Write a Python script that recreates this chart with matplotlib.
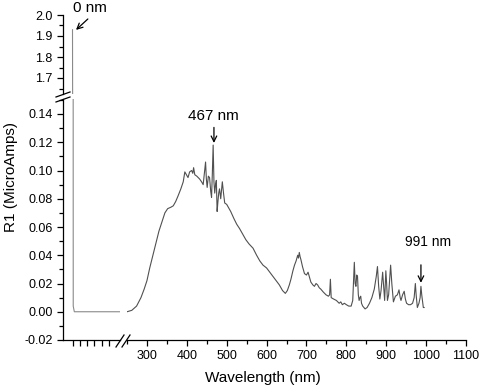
import numpy as np
import matplotlib
matplotlib.use("Agg")
import matplotlib.pyplot as plt
from matplotlib.lines import Line2D
from matplotlib.ticker import MultipleLocator, FormatStrFormatter

plt.rcParams['font.family'] = ['Liberation Sans', 'DejaVu Sans']
plt.rcParams['axes.unicode_minus'] = False

# left (broken) section: the 0 nm spike
wl_left = [0, 1, 2.5, 65]
r1_left = [1.93, 0.004, 0.0, 0.0]

# main spectrum, 250-1000 nm
wavelength = [250, 262, 274, 285, 293, 300, 307, 315, 322, 330, 338, 345, 352, 360, 366,
              372, 378, 385, 391, 395, 399, 403, 407, 412, 415, 417, 420, 425, 432, 437,
              441, 444, 447, 449, 451, 454, 457, 460, 462, 464, 466, 468, 470, 472, 474,
              476, 478, 480, 482, 485, 489, 492, 495, 500, 503, 510, 518, 525, 532, 540,
              548, 556, 566, 575, 583, 591, 600, 608, 616, 624, 632, 640, 647, 652, 657,
              661, 666, 670, 674, 678, 680, 682, 684, 686, 690, 695, 700, 704, 707, 711,
              716, 720, 724, 728, 732, 736, 742, 749, 755, 758, 760, 762, 768, 775, 782,
              786, 790, 795, 800, 806, 812, 816, 820, 822, 824, 826, 828, 830, 832, 834,
              836, 838, 841, 847, 852, 858, 864, 870, 875, 878, 881, 884, 887, 891, 893,
              896, 899, 901, 903, 906, 911, 914, 918, 923, 928, 932, 935, 937, 941, 945,
              948, 951, 956, 961, 966, 970, 973, 975, 978, 982, 985, 987, 989, 993, 995]
r1 = [0.000, 0.001, 0.004, 0.010, 0.016, 0.022, 0.031, 0.040, 0.048, 0.057, 0.064, 0.070, 0.073, 0.074, 0.075,
      0.078, 0.082, 0.087, 0.092, 0.099, 0.097, 0.095, 0.099, 0.100, 0.098, 0.102, 0.097, 0.096, 0.094, 0.092,
      0.090, 0.098, 0.106, 0.094, 0.088, 0.096, 0.095, 0.085, 0.081, 0.098, 0.118, 0.092, 0.084, 0.090, 0.093,
      0.071, 0.078, 0.084, 0.087, 0.080, 0.092, 0.084, 0.077, 0.076, 0.0745, 0.071, 0.066, 0.062, 0.059, 0.055,
      0.051, 0.048, 0.045, 0.040, 0.036, 0.033, 0.031, 0.028, 0.025, 0.022, 0.019, 0.015, 0.013, 0.015, 0.019,
      0.023, 0.029, 0.033, 0.036, 0.040, 0.038, 0.042, 0.039, 0.037, 0.032, 0.027, 0.026, 0.028, 0.025, 0.021,
      0.019, 0.018, 0.020, 0.019, 0.017, 0.016, 0.014, 0.012, 0.011, 0.012, 0.023, 0.010, 0.009, 0.008, 0.006,
      0.007, 0.005, 0.006, 0.005, 0.004, 0.004, 0.008, 0.035, 0.020, 0.018, 0.026, 0.025, 0.012, 0.008, 0.010,
      0.011, 0.006, 0.004, 0.002, 0.003, 0.006, 0.010, 0.016, 0.025, 0.032, 0.018, 0.009, 0.015, 0.028, 0.020,
      0.008, 0.029, 0.020, 0.008, 0.012, 0.033, 0.020, 0.007, 0.011, 0.012, 0.0155, 0.010, 0.008, 0.012, 0.0145,
      0.009, 0.006, 0.005, 0.005, 0.006, 0.010, 0.020, 0.012, 0.003, 0.006, 0.010, 0.018, 0.012, 0.003, 0.003]

W, H = 480, 392


def box(x0, y0, x1, y1):
    # pixel box (top-left origin) -> figure fraction
    return [x0 / W, 1 - y1 / H, (x1 - x0) / W, (y1 - y0) / H]


fig = plt.figure(figsize=(4.8, 3.92), dpi=100)
ax_top = fig.add_axes(box(63, 15, 120, 94))
ax_bl = fig.add_axes(box(63, 99, 120, 340))
ax_br = fig.add_axes(box(127, 99, 466, 340))

left_col = '#8a8a8a'
spec_col = '#505050'

ax_top.plot(wl_left, r1_left, color=left_col, lw=0.8)
ax_bl.plot(wl_left, r1_left, color=left_col, lw=0.8)
ax_br.plot(wavelength, r1, color=spec_col, lw=0.8)

xl_left = (-13, 65)
ax_top.set_xlim(xl_left)
ax_bl.set_xlim(xl_left)
ax_br.set_xlim(250, 1100)
ax_top.set_ylim(2.0 - 79 / 210, 2.0)
ax_bl.set_ylim(-0.02, -0.02 + 241 / 28.25 * 0.02)
ax_br.set_ylim(ax_bl.get_ylim())

for ax in (ax_top, ax_bl, ax_br):
    ax.spines['top'].set_visible(False)
    ax.spines['right'].set_visible(False)
    for s in ax.spines.values():
        s.set_linewidth(0.9)
    ax.patch.set_alpha(0)
    ax.tick_params(which='major', direction='out', length=4.5, width=0.9, labelsize=9, pad=3)
    ax.tick_params(which='minor', direction='out', length=2.6, width=0.9)

ax_top.spines['bottom'].set_visible(False)
ax_top.set_xticks([])
ax_top.yaxis.set_major_locator(MultipleLocator(0.1))
ax_top.yaxis.set_minor_locator(MultipleLocator(0.05))
ax_top.yaxis.set_major_formatter(FormatStrFormatter('%.1f'))

ax_bl.yaxis.set_major_locator(MultipleLocator(0.02))
ax_bl.yaxis.set_minor_locator(MultipleLocator(0.01))
ax_bl.yaxis.set_major_formatter(FormatStrFormatter('%.2f'))
ax_bl.set_xticks(np.arange(0, 60, 10))
ax_bl.set_xticklabels([])

ax_br.spines['left'].set_visible(False)
ax_br.set_yticks([])
ax_br.xaxis.set_major_locator(MultipleLocator(100))
ax_br.xaxis.set_minor_locator(MultipleLocator(50))
ax_br.set_xticks(np.arange(300, 1101, 100))

# break marks
for (x0, y0, x1, y1) in [(56, 97, 70, 92), (56, 102, 70, 97),
                         (116, 347, 124, 335), (122, 347, 130, 335)]:
    fig.add_artist(Line2D([x0 / W, x1 / W], [1 - y0 / H, 1 - y1 / H],
                          transform=fig.transFigure, color='black', lw=0.9))

fig.text(11 / W, 1 - 177 / H, 'R1 (MicroAmps)', rotation=90, ha='center', va='center', fontsize=11)
fig.text(263 / W, 1 - 378 / H, 'Wavelength (nm)', ha='center', va='center', fontsize=11)

arrow = dict(arrowstyle='->', color='black', lw=0.9, shrinkA=0, shrinkB=0)
ax_top.annotate('', xy=(4.8, 1.929), xytext=(21, 1.981), arrowprops=arrow, annotation_clip=False)
ax_top.text(24, 2.033, '0 nm', ha='center', va='center', fontsize=11, clip_on=False)

ax_br.annotate('', xy=(468, 0.1195), xytext=(468, 0.1305), arrowprops=arrow)
ax_br.text(466, 0.1385, '467 nm', ha='center', va='center', fontsize=11)

ax_br.annotate('', xy=(987, 0.0205), xytext=(987, 0.0332), arrowprops=arrow)
ax_br.text(1005, 0.0497, '991 nm', ha='center', va='center', fontsize=10)

fig.savefig('out.png', dpi=100)
